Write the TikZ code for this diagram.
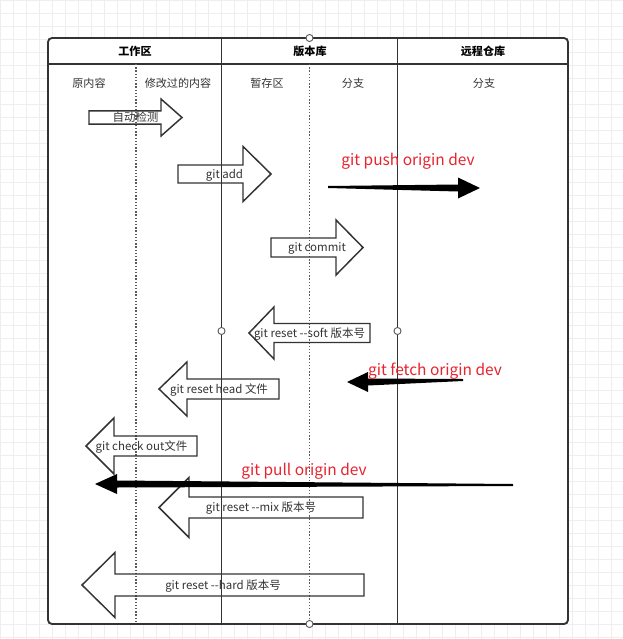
\documentclass[tikz,border=0pt]{standalone}
\usepackage{fontspec}
\setmainfont{Noto Sans CJK SC}
\usetikzlibrary{calc}
\definecolor{ink}{RGB}{51,51,51}
\definecolor{cmdred}{RGB}{232,36,46}
\definecolor{gridc}{RGB}{238,238,238}
% tapered black arrow: start, tip, signed head length, head half height
\newcommand{\fatarrow}[4]{%
  \fill ($(#1)+(0,1)$) -- ($(#2)+(#3,3.5)$) -- ($(#2)+(#3,#4)$) -- (#2)
    -- ($(#2)+(#3,-#4)$) -- ($(#2)+(#3,-3.5)$) -- ($(#1)+(0,-1)$) -- cycle;}

\begin{document}
\begin{tikzpicture}[x=0.75pt,y=-0.75pt,font=\fontsize{8.3}{10}\selectfont,
  lane/.style={draw=ink,line width=1.4pt},
  sep/.style={draw=ink!80,line width=1pt,dash pattern=on 1pt off 1.4pt},
  blk/.style={draw=ink,line width=1.1pt},
  blktxt/.style={text=ink,inner sep=1pt,text height=1.5ex,text depth=0.35ex,
    font=\fontsize{8.6}{10}\selectfont},
  hd/.style={font=\fontsize{8.3}{10}\selectfont\bfseries,text=black},
  sub/.style={text=ink},
  cmd/.style={text=cmdred,font=\fontsize{11.6}{14}\selectfont},
  joint/.style={circle,draw=ink!80,fill=white,line width=0.7pt,inner sep=0pt,minimum size=5.3pt}]
\useasboundingbox (0,0) rectangle (623,639);
% background grid
\foreach \g in {0,13,...,623} \draw[gridc,line width=0.6pt] (\g,0) -- (\g,639);
\foreach \g in {0,13,...,639} \draw[gridc,line width=0.6pt] (0,\g) -- (623,\g);
% lanes
\fill[white] (48,38) rectangle (568,624);
\draw[lane] (48,64) -- (568,64);
\draw[lane] (221.5,38) -- (221.5,624);
\draw[lane] (397.5,38) -- (397.5,624);
\draw[sep] (136,64) -- (136,624);
\draw[sep] (309.5,64) -- (309.5,624);
\draw[lane,rounded corners=3] (48,38) rectangle (568,624);
\node[hd] (wsp) at (135,51) {工作区};
\node[hd] (repo) at (310,51) {版本库};
\node[hd] (remote) at (483,51) {远程仓库};
\node[sub] (orig) at (89,83) {原内容};
\node[sub] (mod) at (178,83) {修改过的内容};
\node[sub] (stage) at (267,83) {暂存区};
\node[sub] (br) at (353,83) {分支};
\node[sub] (rbr) at (484,83) {分支};
% block arrows: tail/head back/tip/y/stem half/head half
\foreach \tl/\bk/\tp/\yc/\s/\h/\nm/\txt in {
  89/161/182/117.5/6.7/18.5/auto/自动检测,
  178/243/271/174/9/27.5/add/git add,
  271/336/363/247.5/9.5/27.5/commit/git commit,
  370/274/249/333/9.5/26/soft/{git reset -{}-soft 版本号},
  279/187/159/389/10/27/head/git reset head 文件,
  197/114/86/446/10/28/checkout/git check out文件,
  363/189/159/507.5/10.5/30/mix/{git reset -{}-mix 版本号},
  364/115/82/585/11/32.5/hard/{git reset -{}-hard 版本号}}
{
  \draw[blk] (\tl,\yc-\s) -- (\bk,\yc-\s) -- (\bk,\yc-\h) -- (\tp,\yc)
    -- (\bk,\yc+\h) -- (\bk,\yc+\s) -- (\tl,\yc+\s) -- cycle;
  \node[blktxt] (\nm) at ({(\tl+\tp)/2},\yc) {\txt};
}
% remote commands
\coordinate (pushA) at (328,187);
\coordinate (pushB) at (480,188);
\coordinate (fetchA) at (463,380);
\coordinate (fetchB) at (347,382);
\coordinate (pullA) at (513,485);
\coordinate (pullB) at (95,484);
\fatarrow{pushA}{pushB}{-22}{10.5}
\fatarrow{fetchA}{fetchB}{21}{10}
\fatarrow{pullA}{pullB}{22}{10}
\node[cmd] (pushlbl) at (408,161) {git push origin dev};
\node[cmd] (fetchlbl) at (435,371) {git fetch origin dev};
\node[cmd] (pulllbl) at (304,471) {git pull origin dev};
% joints
\node[joint] (jtop) at (309.5,38) {};
\node[joint] (jbot) at (309.5,624) {};
\node[joint] (jleft) at (221.5,331) {};
\node[joint] (jright) at (397.5,331) {};
\end{tikzpicture}
\end{document}
